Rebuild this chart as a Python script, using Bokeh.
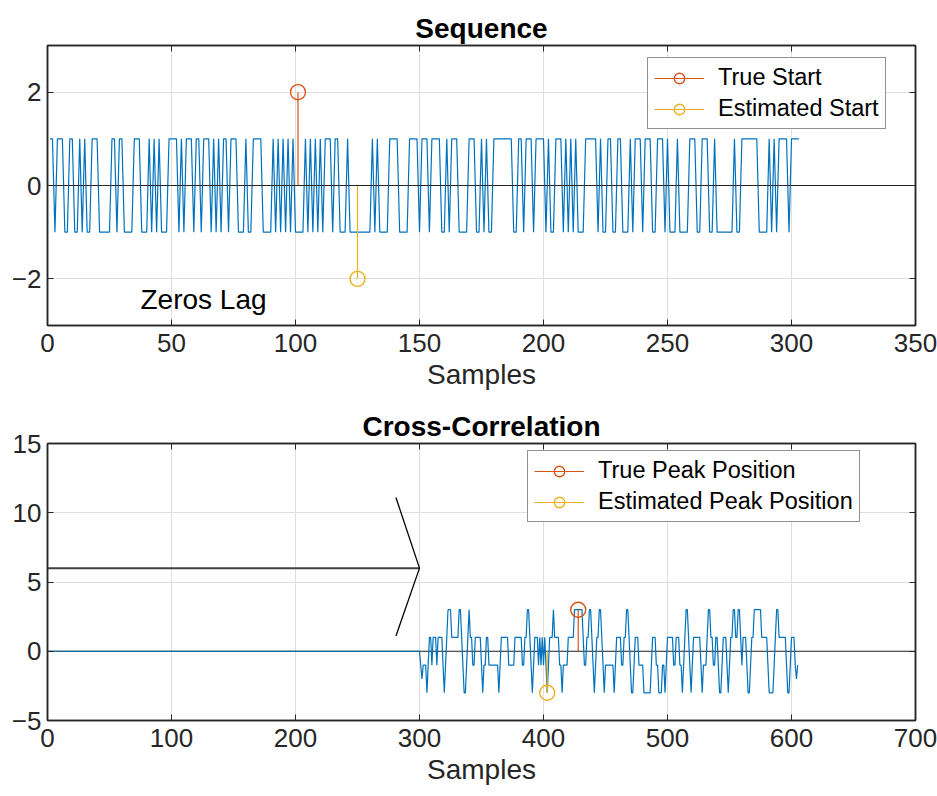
from bokeh.plotting import figure
from bokeh.layouts import column
from bokeh.models import (LinearAxis, Span, Label, Legend, LegendItem,
                          FixedTicker, Range1d)
from bokeh.embed import file_html
from bokeh.resources import INLINE

BLUE = "#0072BD"
RED = "#D95319"
YELLOW = "#EDB120"
AXC = "#262626"
GRIDC = "#dfdfdf"
FONT = "Liberation Sans"

# --- transmitted +/-1 sequence (samples 1..303) ---
sequence = [
    1, 1, -1, 1, 1, 1, -1, -1, 1, 1,
    -1, -1, 1, -1, 1, -1, -1, 1, 1, 1,
    -1, -1, -1, -1, -1, 1, 1, -1, 1, 1,
    -1, -1, -1, -1, 1, 1, 1, -1, -1, -1,
    1, -1, 1, -1, 1, -1, -1, -1, 1, 1,
    1, 1, -1, 1, -1, 1, 1, 1, -1, 1,
    1, -1, 1, 1, 1, -1, 1, -1, 1, -1,
    1, 1, -1, 1, 1, 1, -1, -1, -1, 1,
    -1, -1, 1, 1, 1, 1, -1, -1, -1, -1,
    1, -1, 1, -1, 1, -1, 1, -1, 1, -1,
    -1, -1, -1, 1, -1, 1, -1, 1, -1, 1,
    -1, 1, 1, 1, -1, 1, 1, -1, -1, -1,
    1, -1, -1, -1, -1, -1, -1, -1, -1, -1,
    1, -1, 1, -1, -1, -1, -1, 1, 1, 1,
    1, -1, -1, -1, -1, 1, 1, 1, 1, -1,
    1, 1, 1, -1, 1, 1, 1, 1, -1, -1,
    1, -1, 1, 1, 1, -1, -1, -1, -1, 1,
    1, 1, -1, -1, 1, -1, 1, -1, -1, 1,
    1, 1, 1, 1, 1, 1, 1, -1, -1, 1,
    1, -1, 1, 1, 1, -1, 1, 1, 1, 1,
    -1, 1, -1, -1, 1, 1, 1, -1, 1, -1,
    1, -1, 1, -1, -1, -1, 1, 1, 1, 1,
    1, -1, 1, -1, -1, 1, 1, -1, -1, 1,
    1, -1, -1, -1, 1, -1, 1, 1, 1, -1,
    1, 1, 1, -1, -1, 1, 1, 1, -1, 1,
    -1, -1, -1, 1, -1, -1, -1, -1, 1, 1,
    1, -1, -1, 1, 1, 1, -1, -1, 1, -1,
    -1, -1, -1, -1, -1, -1, 1, -1, -1, 1,
    1, 1, 1, 1, 1, 1, -1, -1, -1, -1,
    1, -1, 1, -1, 1, 1, 1, 1, -1, 1,
    1, 1, 1,
]
samples = list(range(1, len(sequence) + 1))

true_start_x, true_start_y = 101, 2
est_start_x, est_start_y = 125, -2

# --- cross-correlation (lags 1..605); lags 1..300 are zero ---
xcorr_zero_part = [0] * 300
xcorr_active = [
    -1, -2, -1, -1, -1, -3, -1, 1, 1, -1,
    1, 1, 1, -1, 1, 1, 1, 1, -1, -3,
    -1, 1, 3, 3, 3, 1, 1, 1, 1, 1,
    1, 3, 3, 1, -1, -3, -3, -1, 1, 3,
    1, 1, -1, -1, 1, 1, 1, 1, 1, -1,
    -3, -1, -1, 1, 1, -1, -1, -1, -1, -1,
    -1, -1, -1, -3, -1, 1, 1, 1, 1, 1,
    1, -1, -1, -1, -1, -1, 1, 1, 1, 1,
    1, 1, -1, -1, 1, 1, 3, 3, 1, -1,
    -3, -1, 1, 1, 1, -1, 1, -1, 1, -1,
    1, -1, -3, -1, 1, 1, 1, 3, 1, 1,
    1, 1, -1, -1, -3, -1, -1, -1, -1, 1,
    1, 1, 1, 1, 3, 3, 3, 3, 3, 3,
    3, 1, -1, -1, 1, 1, 3, 3, 1, -1,
    -3, -1, 1, 1, 3, 3, 1, -1, -3, -1,
    -1, -1, -1, -1, -1, -1, -3, -1, 1, 1,
    1, 1, -1, -1, 1, 1, 3, 3, 1, -1,
    -3, -3, -1, 1, 1, 1, -1, -1, -1, -1,
    -3, -3, -3, -3, -3, -3, -1, 1, 1, 1,
    -1, -1, -3, -3, -3, -1, -1, -3, -1, 1,
    1, 1, 1, 1, -1, -1, 1, 1, 1, -1,
    -1, -3, -1, 1, 3, 3, 1, -1, -3, -1,
    1, 1, 1, 1, 1, 1, -1, -3, -1, -1,
    -1, 1, 3, 3, 1, 1, -1, -1, 1, 1,
    -1, -3, -3, -1, 1, 1, 1, -1, -3, -1,
    1, 1, 3, 3, 1, 1, 3, 3, 1, -1,
    1, 1, 1, -1, -3, -3, -1, 1, 1, 3,
    3, 3, 3, 3, 3, 1, 1, 1, 1, 1,
    -1, -3, -3, -3, -3, -1, 1, 3, 3, 1,
    1, 1, 1, 1, 1, -1, -3, -3, -1, 1,
    1, 1, -1, -2, -1,
]
xcorr = xcorr_zero_part + xcorr_active
lags = list(range(1, len(xcorr) + 1))

true_peak_x, true_peak_y = 428, 3
est_peak_x, est_peak_y = 403, -3

seq_xticks = [0, 50, 100, 150, 200, 250, 300, 350]
seq_yticks = [-2, 0, 2]
xc_xticks = [0, 100, 200, 300, 400, 500, 600, 700]
xc_yticks = [-5, 0, 5, 10, 15]

# annotation: zero-lag marker arrow in the correlation panel
arrow_tip = (300, 6)
arrow_wings = [(281, 11.1), (281, 1.1)]


def make_axes(height, xr, yr, xticks, yticks, title, top, bottom):
    p = figure(width=937, height=height, x_range=Range1d(*xr), y_range=Range1d(*yr),
               output_backend="svg", toolbar_location=None,
               min_border_left=47, min_border_right=22,
               min_border_top=top, min_border_bottom=bottom)
    p.background_fill_color = "white"
    p.border_fill_color = "white"
    p.outline_line_color = AXC
    p.outline_line_width = 1.5

    p.title.text = title
    p.title.align = "center"
    p.title.text_font = FONT
    p.title.text_font_size = "28px"
    p.title.text_font_style = "bold"
    p.title.text_color = "black"
    p.title.standoff = 4

    for ax in (p.xaxis[0], p.yaxis[0]):
        ax.major_tick_in = 6
        ax.major_tick_out = 0
        ax.minor_tick_in = 0
        ax.minor_tick_out = 0
        ax.axis_line_color = AXC
        ax.axis_line_width = 1.5
        ax.major_tick_line_color = AXC
        ax.major_label_text_font = FONT
        ax.major_label_text_font_size = "26px"
        ax.major_label_text_color = AXC
    p.xaxis[0].ticker = FixedTicker(ticks=xticks)
    p.yaxis[0].ticker = FixedTicker(ticks=yticks)
    p.xaxis[0].major_label_standoff = 8
    p.yaxis[0].major_label_standoff = 6
    p.xaxis[0].axis_label = "Samples"
    p.xaxis[0].axis_label_text_font = FONT
    p.xaxis[0].axis_label_text_font_size = "28px"
    p.xaxis[0].axis_label_text_font_style = "normal"
    p.xaxis[0].axis_label_text_color = AXC
    p.xaxis[0].axis_label_standoff = 4

    # box axes on top and right
    for loc, ticks in (("above", xticks), ("right", yticks)):
        ax = LinearAxis(ticker=FixedTicker(ticks=ticks),
                        major_label_text_font_size="0px", major_label_standoff=0,
                        major_tick_in=6, major_tick_out=0,
                        minor_tick_in=0, minor_tick_out=0,
                        axis_line_color=AXC, axis_line_width=1.5,
                        major_tick_line_color=AXC)
        p.add_layout(ax, loc)

    p.xgrid.ticker = FixedTicker(ticks=xticks)
    p.ygrid.ticker = FixedTicker(ticks=yticks)
    for g in (p.xgrid[0], p.ygrid[0]):
        g.grid_line_color = GRIDC
        g.grid_line_width = 1
    return p


def stem(p, x, y, color):
    seg = p.segment(x0=[x], y0=[0], x1=[x], y1=[y], line_color=color, line_width=1.2)
    mk = p.scatter(x=[x], y=[y], marker="circle", size=15, fill_color=None,
                   line_color=color, line_width=1.4)
    return [seg, mk]


def add_legend(p, items, loc):
    leg = Legend(items=items, location=loc)
    leg.label_text_font = FONT
    leg.label_text_font_size = "23.5px"
    leg.label_text_color = "black"
    leg.glyph_width = 50
    leg.glyph_height = 26
    leg.label_height = 26
    leg.label_standoff = 14
    leg.spacing = 4
    leg.padding = 6
    leg.margin = 0
    leg.border_line_color = AXC
    leg.border_line_width = 1
    leg.background_fill_color = "white"
    leg.background_fill_alpha = 1
    p.add_layout(leg, "center")


# ---------------- Sequence ----------------
p1 = make_axes(405, (0, 350), (-3, 3), seq_xticks, seq_yticks, "Sequence", 45, 80)
p1.line(samples, sequence, line_color=BLUE, line_width=1.2)
p1.add_layout(Span(location=0, dimension="width", line_color=AXC, line_width=1.2))
r_true = stem(p1, true_start_x, true_start_y, RED)
r_est = stem(p1, est_start_x, est_start_y, YELLOW)
p1.add_layout(Label(x=37.5, y=-2.77, text="Zeros Lag", text_font=FONT,
                    text_font_size="28px", text_color="black"))
add_legend(p1, [LegendItem(label="True Start", renderers=r_true),
                LegendItem(label="Estimated Start", renderers=r_est)], (600, 196))

# ---------------- Cross-Correlation ----------------
p2 = make_axes(391, (0, 700), (-5, 15), xc_xticks, xc_yticks, "Cross-Correlation", 38, 76)
p2.add_layout(Span(location=0, dimension="width", line_color=AXC, line_width=1.2,
                   level="underlay"))
p2.line(lags, xcorr, line_color=BLUE, line_width=1.2)
p2.line([0, arrow_tip[0]], [arrow_tip[1], arrow_tip[1]], line_color="#404040", line_width=2)
p2.line([arrow_wings[0][0], arrow_tip[0], arrow_wings[1][0]],
        [arrow_wings[0][1], arrow_tip[1], arrow_wings[1][1]],
        line_color="black", line_width=1.3)
r_tp = stem(p2, true_peak_x, true_peak_y, RED)
r_ep = stem(p2, est_peak_x, est_peak_y, YELLOW)
add_legend(p2, [LegendItem(label="True Peak Position", renderers=r_tp),
                LegendItem(label="Estimated Peak Position", renderers=r_ep)], (480, 198))

layout = column(p1, p2, spacing=0)
open("out.html", "w").write(file_html(layout, INLINE))
